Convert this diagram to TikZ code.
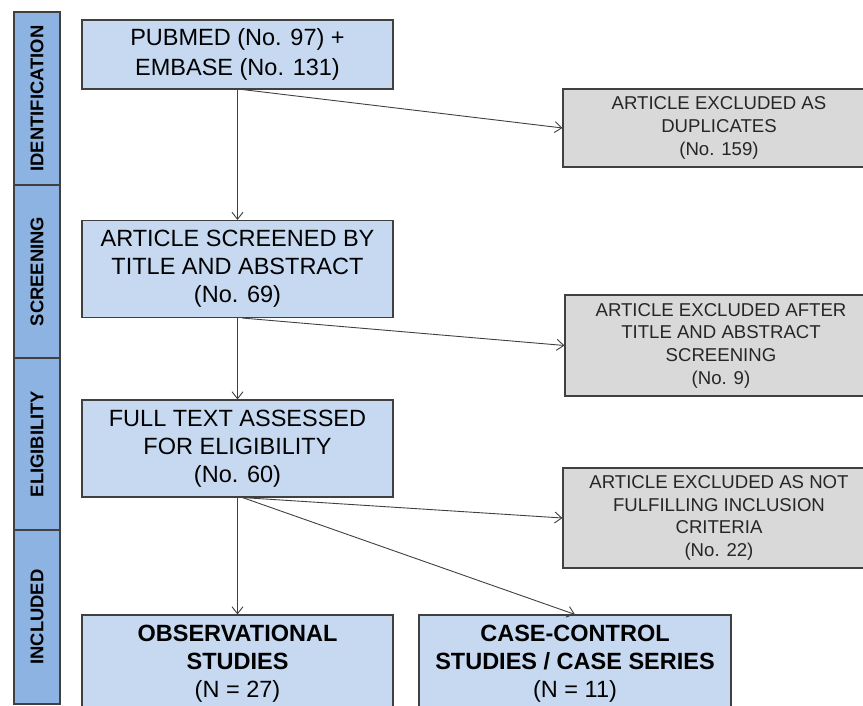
\documentclass[tikz,border=0pt]{standalone}
\usepackage{fontspec}
\setmainfont{Liberation Sans}
\usepackage{tikz}
\usetikzlibrary{arrows.meta}

\definecolor{phaseblue}{HTML}{8DB3E2}
\definecolor{boxblue}{HTML}{C6D9F1}
\definecolor{boxgray}{HTML}{D9D9D9}
\definecolor{edgegray}{HTML}{404040}

\begin{document}
\begin{tikzpicture}[x=1pt,y=-1pt]
      \tikzstyle{phase}=[draw=edgegray,line width=1.1pt,fill=phaseblue,minimum width=46pt,inner sep=0pt,
        font=\fontsize{18.4}{20}\selectfont\bfseries]
      \tikzstyle{stage}=[draw=edgegray,line width=1.1pt,fill=boxblue,inner sep=2pt,align=center,
        minimum width=311pt,minimum height=97pt,font=\fontsize{23.5}{28}\selectfont]
      \tikzstyle{excluded}=[draw=edgegray,line width=1.1pt,fill=boxgray,inner sep=2pt,align=center,
        minimum width=312pt,text=black!85,font=\fontsize{18.6}{22.7}\selectfont]
      \tikzstyle{flow}=[draw=edgegray,line width=0.9pt,-{Straight Barb[length=7pt,width=11pt]}]

      \clip (0,0) rectangle (863,706);

      \node[phase,minimum height=173pt] (p1) at (37,98.5) {\rotatebox{90}{IDENTIFICATION}};
      \node[phase,minimum height=173pt] (p2) at (37,271.5) {\rotatebox{90}{SCREENING}};
      \node[phase,minimum height=172pt] (p3) at (37,444) {\rotatebox{90}{ELIGIBILITY}};
      \node[phase,minimum height=174pt] (p4) at (37,617) {\rotatebox{90}{INCLUDED}};

      \node[stage,minimum height=69pt,font=\fontsize{23.5}{30.5}\selectfont] (db) at (237.5,54.5) {PUBMED (No. 97) +\\EMBASE (No. 131)};
      \node[stage] (screened) at (237.5,269) {ARTICLE SCREENED BY\\TITLE AND ABSTRACT\\(No. 69)};
      \node[stage] (fulltext) at (237.5,448.5) {FULL TEXT ASSESSED\\FOR ELIGIBILITY\\(No. 60)};
      \node[stage] (observ) at (237.5,663.5) {\textbf{OBSERVATIONAL}\\\textbf{STUDIES}\\(N = 27)};
      \node[stage,minimum width=312pt] (casectl) at (575,663.5) {\textbf{CASE-CONTROL}\\\textbf{STUDIES / CASE SERIES}\\(N = 11)};

      \node[excluded,minimum height=78pt] (dup) at (719,128) {ARTICLE EXCLUDED AS\\DUPLICATES\\(No. 159)};
      \node[excluded,minimum height=101pt] (exta) at (721,345.5) {ARTICLE EXCLUDED AFTER\\TITLE AND ABSTRACT\\SCREENING\\(No. 9)};
      \node[excluded,minimum height=100pt] (exfull) at (719,518) {ARTICLE EXCLUDED AS NOT\\FULFILLING INCLUSION\\CRITERIA\\(No. 22)};

      \draw[flow] (db.south) -- (screened.north);
      \draw[flow] ([xshift=5pt]db.south) -- (dup.west);

      \draw[flow] (screened.south) -- (fulltext.north);
      \draw[flow] ([xshift=5pt]screened.south) -- (exta.west);

      \draw[flow] (fulltext.south) -- (observ.north);
      \draw[flow] ([xshift=5pt]fulltext.south) -- (exfull.west);
      \draw[flow] ([xshift=5pt]fulltext.south) -- (casectl.north);
\end{tikzpicture}
\end{document}
